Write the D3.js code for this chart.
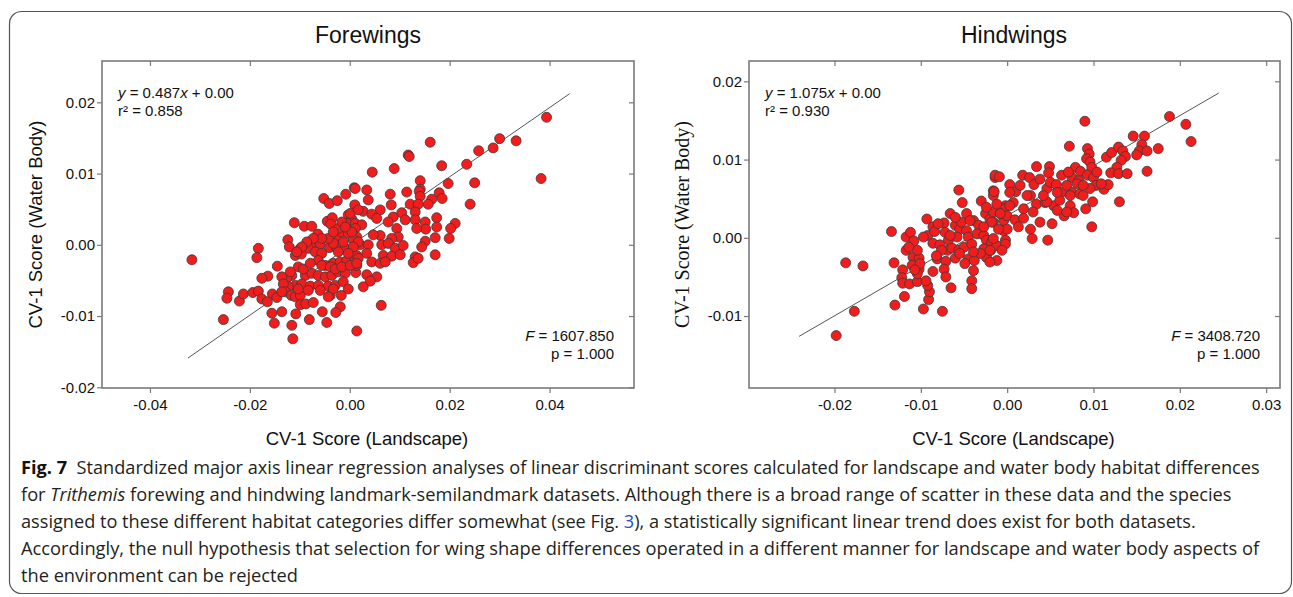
<!DOCTYPE html>
<html>
<head>
<meta charset="utf-8">
<script src="https://cdn.jsdelivr.net/npm/d3@7"></script>
<style>
  html, body { margin: 0; padding: 0; background: #fff; }
  svg { display: block; }
</style>
</head>
<body>
<svg id="fig" width="1293" height="597"></svg>
<script>
// ---- Forewings: CV-1 scores (landscape vs water body) ----
const foreLandscape = [
  -0.0316, 0.0009, -0.0008, -0.0052, -0.0041, -0.0025, 0.0010, -0.0111, -0.0091, -0.0076,
  -0.0045, -0.0035, -0.0038, -0.0003, 0.0004, -0.0005, 0.0011, -0.0064, -0.0124, -0.0121,
  -0.0183, -0.0186, -0.0082, -0.0073, -0.0059, -0.0099, -0.0083, -0.0109, -0.0097, -0.0041,
  -0.0026, -0.0009, -0.0023, -0.0016, -0.0003, 0.0011, -0.0069, -0.0056, -0.0063, -0.0049,
  -0.0033, -0.0019, -0.0006, 0.0011, -0.0145, -0.0103, -0.0116, -0.0126, -0.0136, -0.0164,
  -0.0176, -0.0089, -0.0076, -0.0063, -0.0049, -0.0036, -0.0023, -0.0009, -0.0109, -0.0123,
  -0.0133, -0.0096, -0.0079, -0.0063, -0.0043, -0.0029, -0.0013, -0.0243, -0.0246, -0.0221,
  -0.0213, -0.0194, -0.0183, -0.0176, -0.0155, -0.0146, -0.0129, -0.0117, -0.0109, -0.0099,
  -0.0165, -0.0099, -0.0088, -0.0073, -0.0039, -0.0017, -0.0019, -0.0028, -0.0253, -0.0156,
  -0.0136, -0.0108, -0.0151, -0.0116, -0.0081, -0.0055, -0.0046, -0.0114, 0.0012, 0.0014,
  0.0394, 0.0383, 0.0161, 0.0117, 0.0119, 0.0045, 0.0089, 0.0184, 0.0300, 0.0333,
  0.0287, 0.0258, 0.0234, 0.0197, 0.0250, 0.0241, 0.0141, 0.0141, 0.0139, 0.0141,
  0.0179, 0.0185, 0.0164, 0.0157, 0.0114, 0.0121, 0.0137, 0.0081, 0.0083, 0.0011,
  0.0034, 0.0037, 0.0027, 0.0061, 0.0044, 0.0054, 0.0087, 0.0104, 0.0131, 0.0131,
  0.0151, 0.0174, 0.0174, 0.0152, 0.0134, 0.0211, 0.0202, 0.0199, 0.0171, 0.0151,
  0.0144, 0.0171, 0.0111, 0.0094, 0.0077, 0.0097, 0.0084, 0.0061, 0.0047, 0.0024,
  0.0011, 0.0014, 0.0007, 0.0021, 0.0037, 0.0064, 0.0077, 0.0091, 0.0107, 0.0014,
  0.0034, 0.0067, 0.0084, 0.0101, 0.0131, 0.0127, 0.0137, 0.0044, 0.0061, 0.0071,
  0.0014, 0.0034, 0.0054, 0.0041, 0.0027, 0.0063,
  0.0001, 0.0017, 0.0004, 0.0017, 0.0007, -0.0003, 0.0017, -0.0013, -0.0023, -0.0033,
  -0.0043, -0.0056, -0.0073, -0.0086, -0.0096, -0.0106, -0.0119, -0.0093, -0.0079, -0.0056,
  -0.0039, -0.0029, -0.0016, 0.0001, 0.0014, -0.0136, -0.0103, -0.0083, -0.0059, -0.0033,
  -0.0043, -0.0003, -0.0023, -0.0033, -0.0016, -0.0009
];
const foreWaterBody = [
  -0.0021, 0.0080, 0.0071, 0.0065, 0.0058, 0.0062, 0.0056, 0.0031, 0.0026, 0.0026,
  0.0033, 0.0038, 0.0029, 0.0042, 0.0036, 0.0030, 0.0030, 0.0015, 0.0007, -0.0003,
  -0.0005, -0.0018, 0.0004, 0.0001, 0.0001, -0.0005, -0.0005, -0.0015, -0.0013, -0.0004,
  -0.0004, -0.0005, 0.0007, 0.0018, 0.0016, 0.0009, -0.0010, -0.0012, -0.0022, -0.0029,
  -0.0026, -0.0024, -0.0022, -0.0019, -0.0030, -0.0031, -0.0043, -0.0047, -0.0045, -0.0044,
  -0.0047, -0.0043, -0.0040, -0.0043, -0.0045, -0.0043, -0.0038, -0.0040, -0.0057, -0.0059,
  -0.0055, -0.0055, -0.0058, -0.0057, -0.0058, -0.0057, -0.0052, -0.0066, -0.0075, -0.0079,
  -0.0069, -0.0067, -0.0065, -0.0076, -0.0069, -0.0074, -0.0066, -0.0071, -0.0073, -0.0071,
  -0.0080, -0.0084, -0.0083, -0.0081, -0.0071, -0.0071, -0.0087, -0.0095, -0.0105, -0.0096,
  -0.0094, -0.0097, -0.0110, -0.0113, -0.0105, -0.0094, -0.0109, -0.0132, -0.0039, -0.0121,
  0.0179, 0.0093, 0.0144, 0.0126, 0.0124, 0.0102, 0.0107, 0.0111, 0.0149, 0.0146,
  0.0136, 0.0132, 0.0113, 0.0086, 0.0087, 0.0057, 0.0090, 0.0078, 0.0075, 0.0068,
  0.0073, 0.0065, 0.0064, 0.0057, 0.0074, 0.0057, 0.0057, 0.0071, 0.0056, 0.0079,
  0.0077, 0.0063, 0.0047, 0.0049, 0.0043, 0.0037, 0.0039, 0.0045, 0.0046, 0.0035,
  0.0032, 0.0038, 0.0025, 0.0022, 0.0023, 0.0030, 0.0023, 0.0009, 0.0010, 0.0005,
  -0.0003, -0.0014, 0.0035, 0.0023, 0.0032, 0.0011, 0.0009, 0.0013, 0.0014, 0.0028,
  0.0023, 0.0011, 0.0007, 0.0000, 0.0000, 0.0000, 0.0002, -0.0005, -0.0001, -0.0015,
  -0.0012, -0.0015, -0.0016, -0.0014, -0.0017, -0.0025, -0.0019, -0.0024, -0.0026, -0.0024,
  -0.0029, -0.0042, -0.0045, -0.0051, -0.0059, -0.0085,
  0.0044, 0.0049, 0.0018, 0.0004, -0.0003, -0.0012, -0.0019, 0.0004, -0.0010, 0.0002,
  0.0009, 0.0009, 0.0009, 0.0004, -0.0003, -0.0010, -0.0038, -0.0034, -0.0026, -0.0029,
  -0.0031, -0.0034, -0.0031, -0.0029, -0.0026, -0.0066, -0.0062, -0.0064, -0.0064, -0.0062,
  -0.0073, -0.0062, 0.0023, 0.0018, 0.0032, 0.0025
];

// ---- Hindwings: CV-1 scores (landscape vs water body) ----
const hindLandscape = [
  -0.0198, -0.0177, -0.0187, -0.0167, -0.0134, -0.0131, -0.0130, -0.0119, -0.0121, -0.0122,
  -0.0121, -0.0113, -0.0104, -0.0117, -0.0112, -0.0108, -0.0117, -0.0109, -0.0102, -0.0104,
  -0.0110, -0.0102, -0.0104, -0.0097, -0.0075, -0.0091, -0.0090, -0.0092, -0.0094, -0.0086,
  -0.0081, -0.0071, -0.0073, -0.0071, -0.0065, -0.0093, -0.0086, -0.0092, -0.0084, -0.0086,
  -0.0078, -0.0073, -0.0066, -0.0072, -0.0068, -0.0069, -0.0064, -0.0060, -0.0056, -0.0050,
  -0.0060, -0.0055, -0.0058, -0.0053, -0.0047, -0.0045, -0.0041, -0.0045, -0.0038, -0.0039,
  -0.0041, -0.0041, -0.0056, -0.0052, -0.0047, -0.0039, -0.0033, -0.0030, -0.0025, -0.0020,
  -0.0016, -0.0010, -0.0016, -0.0014, -0.0016, -0.0035, -0.0027, -0.0024, -0.0018, -0.0027,
  -0.0024, -0.0019, -0.0012, -0.0005, -0.0002, -0.0004, -0.0002, 0.0090, 0.0188, 0.0207,
  0.0213, 0.0146, 0.0159, 0.0156, 0.0153, 0.0150, 0.0162, 0.0175, 0.0072, 0.0093,
  0.0095, 0.0092, 0.0096, 0.0098, 0.0115, 0.0121, 0.0129, 0.0134, 0.0137, 0.0132,
  0.0127, 0.0120, 0.0129, 0.0139, 0.0162, 0.0130, 0.0098, 0.0034, 0.0049, 0.0048,
  0.0063, 0.0079, 0.0085, 0.0075, 0.0083, 0.0093, 0.0100, 0.0103, 0.0112, 0.0117,
  -0.0014, -0.0009, 0.0003, 0.0010, 0.0018, 0.0026, 0.0031, 0.0038, 0.0046, 0.0050,
  0.0057, 0.0063, 0.0075, 0.0084, 0.0073, 0.0096, -0.0015, -0.0004, 0.0007, 0.0019,
  0.0027, 0.0034, 0.0044, 0.0054, 0.0061, 0.0073, 0.0088, 0.0099, 0.0091, 0.0077,
  0.0066, -0.0016, -0.0008, 0.0000, 0.0009, 0.0019, -0.0018, -0.0004, -0.0016, -0.0002,
  -0.0020, 0.0027, 0.0029, 0.0046, 0.0052, 0.0047,
  -0.0008, 0.0000, -0.0006, -0.0012, -0.0020, -0.0031, -0.0039, -0.0049, -0.0055, -0.0066,
  -0.0076, -0.0082, -0.0101, -0.0107, -0.0114, -0.0097, -0.0080, -0.0060, -0.0043, -0.0024,
  -0.0012, -0.0027, 0.0003, 0.0015, 0.0023, 0.0042, 0.0058, 0.0069, 0.0081, 0.0088,
  0.0071, 0.0104, 0.0109, 0.0003, 0.0030, 0.0058, 0.0069, 0.0038, 0.0013, -0.0010
];
const hindWaterBody = [
  -0.0125, -0.0094, -0.0032, -0.0036, 0.0008, -0.0032, -0.0086, -0.0075, -0.0041, -0.0051,
  -0.0058, -0.0059, -0.0056, 0.0001, 0.0007, -0.0004, -0.0016, -0.0025, -0.0026, -0.0016,
  -0.0035, -0.0040, -0.0046, -0.0091, -0.0094, -0.0079, -0.0069, -0.0061, -0.0055, -0.0043,
  -0.0027, -0.0030, -0.0040, -0.0050, -0.0064, 0.0024, 0.0014, 0.0003, 0.0008, -0.0007,
  -0.0009, 0.0019, 0.0031, 0.0007, -0.0003, -0.0016, -0.0013, -0.0026, -0.0016, -0.0012,
  0.0016, 0.0011, 0.0001, 0.0020, 0.0009, 0.0001, -0.0008, -0.0027, -0.0029, -0.0042,
  -0.0055, -0.0065, 0.0061, 0.0045, 0.0031, 0.0022, 0.0016, 0.0047, 0.0031, 0.0024,
  0.0020, 0.0035, 0.0060, 0.0077, 0.0054, 0.0005, 0.0003, -0.0003, -0.0006, -0.0014,
  -0.0025, -0.0016, -0.0010, 0.0011, -0.0003, 0.0022, 0.0041, 0.0149, 0.0155, 0.0145,
  0.0123, 0.0130, 0.0130, 0.0119, 0.0111, 0.0106, 0.0111, 0.0114, 0.0117, 0.0114,
  0.0107, 0.0101, 0.0097, 0.0090, 0.0103, 0.0109, 0.0116, 0.0111, 0.0104, 0.0099,
  0.0090, 0.0083, 0.0082, 0.0082, 0.0085, 0.0046, 0.0014, 0.0091, 0.0091, 0.0083,
  0.0080, 0.0090, 0.0085, 0.0077, 0.0073, 0.0080, 0.0077, 0.0067, 0.0062, 0.0068,
  0.0080, 0.0078, 0.0068, 0.0059, 0.0080, 0.0077, 0.0068, 0.0075, 0.0063, 0.0071,
  0.0068, 0.0058, 0.0058, 0.0056, 0.0054, 0.0063, 0.0059, 0.0037, 0.0045, 0.0037,
  0.0054, 0.0043, 0.0045, 0.0041, 0.0048, 0.0041, 0.0054, 0.0046, 0.0037, 0.0032,
  0.0028, 0.0033, 0.0031, 0.0028, 0.0023, 0.0025, 0.0020, 0.0009, -0.0001, -0.0008,
  -0.0016, 0.0011, -0.0001, 0.0046, 0.0018, -0.0003,
  0.0031, 0.0011, -0.0016, -0.0029, -0.0031, -0.0020, -0.0018, -0.0033, -0.0020, 0.0003,
  -0.0016, -0.0023, -0.0033, -0.0041, -0.0012, 0.0001, 0.0018, 0.0026, 0.0022, 0.0039,
  0.0043, 0.0014, 0.0058, 0.0067, 0.0054, 0.0054, 0.0058, 0.0067, 0.0069, 0.0067,
  0.0084, 0.0084, 0.0069, 0.0041, 0.0033, 0.0035, 0.0033, 0.0020, 0.0014, 0.0011
];

// Fitted SMA lines (end points, in score units)
const foreFitLine = [[-0.0324, -0.0159], [0.0440, 0.0212]];
const hindFitLine = [[-0.0241, -0.0126], [0.0245, 0.0185]];

// Axis ticks and labels
const foreXTicks = [-0.04, -0.02, 0.00, 0.02, 0.04];
const foreXTickLabels = ["-0.04", "-0.02", "0.00", "0.02", "0.04"];
const foreYTicks = [-0.02, -0.01, 0.00, 0.01, 0.02];
const foreYTickLabels = ["-0.02", "-0.01", "0.00", "0.01", "0.02"];
const hindXTicks = [-0.02, -0.01, 0.00, 0.01, 0.02, 0.03];
const hindXTickLabels = ["-0.02", "-0.01", "0.00", "0.01", "0.02", "0.03"];
const hindYTicks = [-0.01, 0.00, 0.01, 0.02];
const hindYTickLabels = ["-0.01", "0.00", "0.01", "0.02"];

// Regression statistics
const foreStats = { slope: "0.487", intercept: "0.00", r2: "0.858", F: "1607.850", p: "1.000" };
const hindStats = { slope: "1.075", intercept: "0.00", r2: "0.930", F: "3408.720", p: "1.000" };

const svg = d3.select("#fig");
const SANS = "'Liberation Sans', Arial, Helvetica, sans-serif";
const SERIF = "'Liberation Serif', 'Times New Roman', serif";
const axisGray = "#7a7a7a";

// Outer frame of the figure
svg.append("rect")
  .attr("x", 9.5).attr("y", 11.5)
  .attr("width", 1282).attr("height", 582)
  .attr("rx", 12).attr("ry", 12)
  .attr("fill", "none").attr("stroke", "#555").attr("stroke-width", 1.2);

function drawPanel(cfg) {
  const x = d3.scaleLinear().domain(cfg.xDomain).range([cfg.left, cfg.right]);
  const y = d3.scaleLinear().domain(cfg.yDomain).range([cfg.bottom, cfg.top]);
  const g = svg.append("g");

  // title
  g.append("text")
    .attr("x", cfg.titleX).attr("y", 43)
    .attr("text-anchor", "middle")
    .attr("font-family", SANS).attr("font-size", 23).attr("fill", "#111")
    .text(cfg.title);

  // axes on all four sides
  const fmt = (labels, ticks) => (d => labels[ticks.indexOf(d)]);
  const bottom = g.append("g").attr("transform", `translate(0,${cfg.bottom})`)
    .call(d3.axisBottom(x).tickValues(cfg.xTicks).tickFormat(fmt(cfg.xLabels, cfg.xTicks)).tickSize(5).tickPadding(6));
  const left = g.append("g").attr("transform", `translate(${cfg.left},0)`)
    .call(d3.axisLeft(y).tickValues(cfg.yTicks).tickFormat(fmt(cfg.yLabels, cfg.yTicks)).tickSize(5).tickPadding(2));
  const top = g.append("g").attr("transform", `translate(0,${cfg.top})`)
    .call(d3.axisTop(x).tickValues(cfg.xTicks).tickFormat("").tickSize(-5));
  const right = g.append("g").attr("transform", `translate(${cfg.right},0)`)
    .call(d3.axisRight(y).tickValues(cfg.yTicks).tickFormat("").tickSize(-5));

  [bottom, left, top, right].forEach(a => {
    a.selectAll(".tick line").attr("stroke", axisGray).attr("stroke-width", 1.2);
    a.selectAll(".tick text").attr("fill", "#111")
      .attr("font-family", SANS).attr("font-size", 15);
    a.select(".domain").remove();
  });
  // plot frame
  g.append("rect")
    .attr("x", cfg.left).attr("y", cfg.top)
    .attr("width", cfg.right - cfg.left).attr("height", cfg.bottom - cfg.top)
    .attr("fill", "none").attr("stroke", axisGray).attr("stroke-width", 1.6);

  // axis titles
  g.append("text")
    .attr("x", (cfg.left + cfg.right) / 2 - 1).attr("y", 445)
    .attr("text-anchor", "middle")
    .attr("font-family", SANS).attr("font-size", 18.5).attr("fill", "#111")
    .text("CV-1 Score (Landscape)");
  g.append("text")
    .attr("transform", `translate(${cfg.yTitleX},${(cfg.top + cfg.bottom) / 2}) rotate(-90)`)
    .attr("text-anchor", "middle")
    .style("font-family", cfg.yTitleFont).attr("font-size", cfg.yTitleSize).attr("fill", "#111")
    .text("CV-1 Score (Water Body)");

  // fitted line (drawn beneath the points)
  const line = d3.line().x(d => x(d[0])).y(d => y(d[1]));
  g.append("path")
    .datum(cfg.fit)
    .attr("d", line)
    .attr("fill", "none").attr("stroke", "#555").attr("stroke-width", 1);

  // points
  const pts = cfg.xs.map((v, i) => [v, cfg.ys[i]]);
  g.append("g").selectAll("circle")
    .data(pts)
    .join("circle")
    .attr("cx", d => x(d[0]))
    .attr("cy", d => y(d[1]))
    .attr("r", 5)
    .attr("fill", "#f21c1c")
    .attr("stroke", "#3a3a3a")
    .attr("stroke-width", 0.8);

  // equation / r²
  const eq = g.append("text")
    .attr("x", cfg.left + 16).attr("y", 98)
    .attr("font-family", SANS).attr("font-size", 15).attr("fill", "#111");
  eq.append("tspan").attr("font-style", "italic").text("y");
  eq.append("tspan").text(` = ${cfg.stats.slope}`);
  eq.append("tspan").attr("font-style", "italic").text("x");
  eq.append("tspan").text(` + ${cfg.stats.intercept}`);
  g.append("text")
    .attr("x", cfg.left + 16).attr("y", 116)
    .attr("font-family", SANS).attr("font-size", 15).attr("fill", "#111")
    .text(`r\u00B2 = ${cfg.stats.r2}`);

  // F / p
  const ft = g.append("text")
    .attr("x", cfg.right - 20).attr("y", 341)
    .attr("text-anchor", "end")
    .attr("font-family", SANS).attr("font-size", 15).attr("fill", "#111");
  ft.append("tspan").attr("font-style", "italic").text("F");
  ft.append("tspan").text(` = ${cfg.stats.F}`);
  g.append("text")
    .attr("x", cfg.right - 20).attr("y", 359)
    .attr("text-anchor", "end")
    .attr("font-family", SANS).attr("font-size", 15).attr("fill", "#111")
    .text(`p = ${cfg.stats.p}`);
}

drawPanel({
  title: "Forewings", titleX: 368,
  left: 102, right: 634, top: 61, bottom: 388,
  xDomain: [-0.0496, 0.0569], yDomain: [-0.0201, 0.0258],
  xTicks: foreXTicks, xLabels: foreXTickLabels,
  yTicks: foreYTicks, yLabels: foreYTickLabels,
  yTitleX: 42, yTitleFont: SANS, yTitleSize: 18.5,
  xs: foreLandscape, ys: foreWaterBody, fit: foreFitLine, stats: foreStats
});

drawPanel({
  title: "Hindwings", titleX: 1014,
  left: 749, right: 1280, top: 61, bottom: 388,
  xDomain: [-0.0299, 0.0316], yDomain: [-0.0192, 0.0226],
  xTicks: hindXTicks, xLabels: hindXTickLabels,
  yTicks: hindYTicks, yLabels: hindYTickLabels,
  yTitleX: 689, yTitleFont: SERIF, yTitleSize: 20,
  xs: hindLandscape, ys: hindWaterBody, fit: hindFitLine, stats: hindStats
});

// ---- Caption ----
const CAP = "'Open Sans', 'Noto Sans', sans-serif";
const captionLines = [
  [{ t: "Fig. 7", b: true }, { t: "  Standardized major axis linear regression analyses of linear discriminant scores calculated for landscape and water body habitat differences" }],
  [{ t: "for " }, { t: "Trithemis", i: true }, { t: " forewing and hindwing landmark-semilandmark datasets. Although there is a broad range of scatter in these data and the species" }],
  [{ t: "assigned to these different habitat categories differ somewhat (see Fig. " }, { t: "3", c: "#2a4fd0" }, { t: "), a statistically significant linear trend does exist for both datasets." }],
  [{ t: "Accordingly, the null hypothesis that selection for wing shape differences operated in a different manner for landscape and water body aspects of" }],
  [{ t: "the environment can be rejected" }]
];
// right end of each full-width line; the short closing line keeps the common squeeze
const captionEnds = [1261, 1232, 1196, 1260, null];
const capX = 21, capY0 = 474, capStep = 27;

const capGroups = captionLines.map((parts, li) => {
  const wrap = svg.append("g");
  const t = wrap.append("text")
    .attr("x", 0).attr("y", 0)
    .attr("font-family", CAP).attr("font-size", 18)
    .attr("fill", "#231f20")
    .style("white-space", "pre");
  parts.forEach(p => {
    const s = t.append("tspan").text(p.t);
    if (p.b) s.attr("font-weight", 700).attr("fill", "#111");
    if (p.i) s.attr("font-style", "italic");
    if (p.c) s.attr("fill", p.c);
  });
  return { wrap, w: t.node().getComputedTextLength(), li };
});
const ks = capGroups.filter(c => captionEnds[c.li] != null).map(c => (captionEnds[c.li] - capX) / c.w);
const kMean = d3.mean(ks);
capGroups.forEach(c => {
  const k = captionEnds[c.li] != null ? (captionEnds[c.li] - capX) / c.w : kMean;
  c.wrap.attr("transform", `translate(${capX},${capY0 + c.li * capStep}) scale(${k},1)`);
});
</script>
</body>
</html>
